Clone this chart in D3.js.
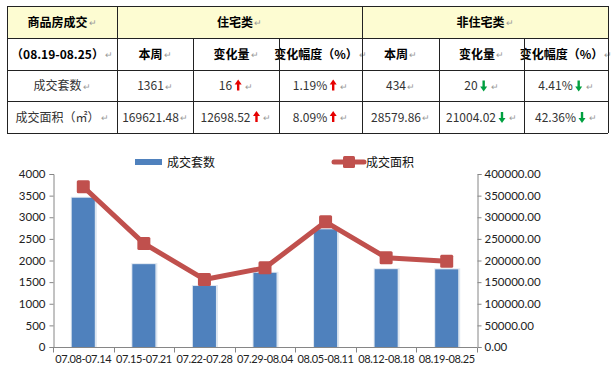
<!DOCTYPE html>
<html>
<head>
<meta charset="utf-8">
<script src="https://cdn.jsdelivr.net/npm/d3@7"></script>
<style>
  body { margin: 0; background: #fff; }
  svg { display: block; }
</style>
</head>
<body>
<div id="chart"></div>
<script>
// table data
const groupHeads = ["住宅类", "非住宅类"];
const colHeads = ["本周", "变化量", "变化幅度（%）"];
const periodLabel = "（08.19-08.25）";
const rowLabels = ["成交套数", "成交面积（㎡）"];
const resValues = [["1361", "16", "1.19%"], ["169621.48", "12698.52", "8.09%"]];
const resDir = ["up", "up"];
const nonResValues = [["434", "20", "4.41%"], ["28579.86", "21004.02", "42.36%"]];
const nonResDir = ["down", "down"];

// chart data
const weeks = ["07.08-07.14", "07.15-07.21", "07.22-07.28", "07.29-08.04", "08.05-08.11", "08.12-08.18", "08.19-08.25"];
const units = [3450, 1915, 1410, 1715, 2720, 1799, 1795];
const area = [370500, 239500, 156200, 183000, 289500, 206500, 198201];
const leftTicks = [0, 500, 1000, 1500, 2000, 2500, 3000, 3500, 4000];
const rightTicks = [0, 50000, 100000, 150000, 200000, 250000, 300000, 350000, 400000];

const W = 612, H = 371;
const svg = d3.select("#chart").append("svg").attr("width", W).attr("height", H);

// ---------- table ----------
const colX = [7, 117, 193, 279, 362, 439, 524, 608];
const rowY = [6, 38, 70, 101, 133];
const tFont = "'Noto Sans CJK SC', 'Noto Sans', sans-serif";
const table = svg.append("g");

table.append("rect")
    .attr("x", colX[0]).attr("y", rowY[0])
    .attr("width", colX[7] - colX[0]).attr("height", rowY[1] - rowY[0])
    .attr("fill", "#fdfcd2");

function arrow(g, x, yMid, dir) {
    let color = dir === "up" ? "#e60000" : "#00a040";
    let p = d3.path();
    if (dir === "up") {
        p.moveTo(x, yMid - 6); p.lineTo(x + 3.5, yMid - 1); p.lineTo(x - 3.5, yMid - 1); p.closePath();
        g.append("rect").attr("x", x - 1.2).attr("y", yMid - 2).attr("width", 2.4).attr("height", 7).attr("fill", color);
    } else {
        p.moveTo(x, yMid + 6); p.lineTo(x + 3.5, yMid + 1); p.lineTo(x - 3.5, yMid + 1); p.closePath();
        g.append("rect").attr("x", x - 1.2).attr("y", yMid - 5).attr("width", 2.4).attr("height", 7).attr("fill", color);
    }
    g.append("path").attr("d", p.toString()).attr("fill", color);
}

function cellText(x0, x1, y0, y1, txt, bold, dir) {
    let cx = (x0 + x1) / 2, cy = (y0 + y1) / 2;
    let t = table.append("text")
        .attr("y", cy + 4.5)
        .style("font-family", tFont)
        .style("font-size", "12px")
        .style("font-weight", bold ? 700 : 400)
        .attr("fill", bold ? "#000" : "#333")
        .text(txt);
    let tw = t.node().getComputedTextLength();
    let extra = dir ? 12 : 0;
    let mark = 9;
    let total = tw + extra + mark;
    let sx = cx - total / 2;
    t.attr("x", sx);
    if (dir) arrow(table, sx + tw + 6, cy, dir);
    table.append("text")
        .attr("x", sx + tw + extra + 1).attr("y", cy + 4)
        .style("font-family", tFont).style("font-size", "9px")
        .attr("fill", "#999").text("↵");
}

cellText(colX[0], colX[1], rowY[0], rowY[1], "商品房成交", true);
cellText(colX[1], colX[4], rowY[0], rowY[1], groupHeads[0], true);
cellText(colX[4], colX[7], rowY[0], rowY[1], groupHeads[1], true);
cellText(colX[0], colX[1], rowY[1], rowY[2], periodLabel, true);
colHeads.forEach((h, i) => {
    cellText(colX[1 + i], colX[2 + i], rowY[1], rowY[2], h, true);
    cellText(colX[4 + i], colX[5 + i], rowY[1], rowY[2], h, true);
});
rowLabels.forEach((r, ri) => {
    cellText(colX[0], colX[1], rowY[2 + ri], rowY[3 + ri], r, false);
    resValues[ri].forEach((v, ci) => {
        cellText(colX[1 + ci], colX[2 + ci], rowY[2 + ri], rowY[3 + ri], v, false, ci > 0 ? resDir[ri] : null);
    });
    nonResValues[ri].forEach((v, ci) => {
        cellText(colX[4 + ci], colX[5 + ci], rowY[2 + ri], rowY[3 + ri], v, false, ci > 0 ? nonResDir[ri] : null);
    });
});

// grid lines
const gridColor = "#222";
rowY.forEach(y => {
    table.append("line").attr("x1", colX[0]).attr("x2", colX[7]).attr("y1", y + 0.5).attr("y2", y + 0.5)
        .attr("stroke", gridColor).attr("stroke-width", 1);
});
colX.forEach((x, i) => {
    let top = (i === 2 || i === 3 || i === 5 || i === 6) ? rowY[1] : rowY[0];
    table.append("line").attr("x1", x + 0.5).attr("x2", x + 0.5).attr("y1", top).attr("y2", rowY[4])
        .attr("stroke", gridColor).attr("stroke-width", 1);
});

// ---------- chart ----------
const cFont = "Lato, 'Open Sans', sans-serif";
const plotL = 53, plotR = 477, plotT = 174, plotB = 347;

let x = d3.scaleBand().domain(weeks).range([plotL, plotR]);
let yL = d3.scaleLinear().domain([0, 4000]).range([plotB, plotT]);
let yR = d3.scaleLinear().domain([0, 400000]).range([plotB, plotT]);

const chart = svg.append("g");

// bars with soft shadow
chart.selectAll("rect.shadow").data(units).enter().append("rect")
    .attr("class", "shadow")
    .attr("x", (d, i) => x(weeks[i]) + x.bandwidth() * 0.31 - 1)
    .attr("y", d => yL(d) - 1)
    .attr("width", x.bandwidth() * 0.38 + 3)
    .attr("height", d => plotB - yL(d) + 1)
    .attr("fill", "#dde6f0");

chart.selectAll("rect.bar").data(units).enter().append("rect")
    .attr("class", "bar")
    .attr("x", (d, i) => x(weeks[i]) + x.bandwidth() * 0.31)
    .attr("y", d => yL(d))
    .attr("width", x.bandwidth() * 0.38)
    .attr("height", d => plotB - yL(d))
    .attr("fill", "#4f81bd");

// axes
let axisLeft = chart.append("g").attr("transform", `translate(${plotL + 0.5},0)`)
    .call(d3.axisLeft(yL).tickValues(leftTicks).tickSize(4).tickPadding(4).tickFormat(d3.format("d")));
let axisRight = chart.append("g").attr("transform", `translate(${plotR + 0.5},0)`)
    .call(d3.axisRight(yR).tickValues(rightTicks).tickSize(4).tickPadding(3).tickFormat(d3.format(".2f")));
let axisBottom = chart.append("g").attr("transform", `translate(0,${plotB + 0.5})`)
    .call(d3.axisBottom(x).tickSize(0).tickPadding(8));

// category boundary ticks
let bounds = weeks.map(w => x(w)).concat([plotR]);
axisBottom.selectAll("line.bound").data(bounds).enter().append("line")
    .attr("class", "bound")
    .attr("x1", d => Math.round(d) + 0.5).attr("x2", d => Math.round(d) + 0.5)
    .attr("y1", 0).attr("y2", 5).attr("stroke", "#868686");

[axisLeft, axisRight, axisBottom].forEach(a => {
    a.selectAll("path.domain").attr("stroke", "#868686");
    a.selectAll(".tick line").attr("stroke", "#868686");
    a.selectAll("text").style("font-family", cFont).style("font-size", "11.5px").attr("fill", "#222");
});
axisBottom.selectAll("text").style("font-size", "11px").style("letter-spacing", "-0.4px");
axisBottom.select("path.domain").attr("d", `M${plotL},0H${plotR}`);

// line series
let line = d3.line()
    .x((d, i) => x(weeks[i]) + x.bandwidth() / 2)
    .y(d => yR(d));

chart.append("path")
    .datum(area)
    .attr("d", line)
    .attr("fill", "none")
    .attr("stroke", "#c0504d")
    .attr("stroke-width", 5)
    .attr("stroke-linejoin", "round");

chart.selectAll("rect.marker").data(area).enter().append("rect")
    .attr("class", "marker")
    .attr("x", (d, i) => x(weeks[i]) + x.bandwidth() / 2 - 6.5)
    .attr("y", d => yR(d) - 6.5)
    .attr("width", 13).attr("height", 13)
    .attr("rx", 1.5)
    .attr("fill", "#c0504d");

// legend
const legend = svg.append("g");
legend.append("rect").attr("x", 135).attr("y", 159).attr("width", 27).attr("height", 6).attr("fill", "#4f81bd");
legend.append("text").attr("x", 167).attr("y", 167)
    .style("font-family", tFont).style("font-size", "12px").attr("fill", "#111").text("成交套数");
legend.append("line").attr("x1", 334).attr("x2", 364).attr("y1", 162).attr("y2", 162)
    .attr("stroke", "#c0504d").attr("stroke-width", 5).attr("stroke-linecap", "round");
legend.append("rect").attr("x", 343).attr("y", 156).attr("width", 12).attr("height", 12).attr("rx", 1.5).attr("fill", "#c0504d");
legend.append("text").attr("x", 366).attr("y", 167)
    .style("font-family", tFont).style("font-size", "12px").attr("fill", "#111").text("成交面积");
</script>
</body>
</html>
